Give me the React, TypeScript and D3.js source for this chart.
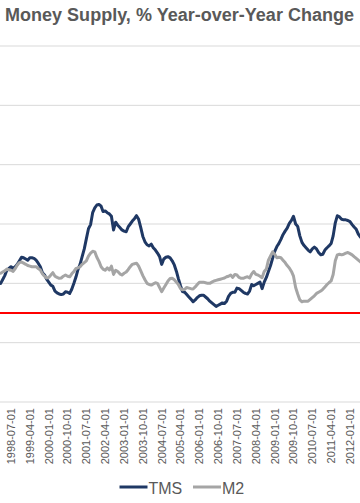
import React from "react";
import * as d3 from "d3";

const title = "Money Supply, % Year-over-Year Change";

const startMonth = "1998-02-01";
const endMonth = "2012-07-01";

const tmsValues = [
  5.0, 5.6, 6.3, 7.2, 7.5, 7.8, 7.5, 7.8, 8.2, 8.8, 9.4, 9.3, 9.1, 8.9, 9.3, 9.3, 9.2, 8.9, 8.4, 7.8,
  6.8, 6.4, 5.7, 5.2, 4.7, 4.5, 3.7, 3.4, 3.2, 3.1, 3.2, 3.6, 3.5, 3.3, 4.0, 5.0, 6.1, 7.3, 8.2, 9.5,
  10.8, 12.5, 14.2, 14.9, 16.9, 17.7, 18.2, 18.3, 18.0, 17.1, 17.2, 16.9, 16.7, 16.3, 14.0, 15.3, 14.8, 14.4, 14.0, 13.8,
  13.7, 14.5, 15.0, 15.5, 15.9, 16.4, 15.8, 14.4, 12.9, 12.0, 11.5, 11.3, 11.6, 11.0, 10.6, 10.1, 9.5, 8.2, 9.1, 9.4,
  9.5, 9.3, 8.8, 8.1, 7.0, 5.8, 4.6, 3.6, 3.5, 3.1, 2.7, 2.3, 1.9, 2.2, 2.6, 2.9, 3.0, 3.0, 2.7, 2.4,
  2.0, 1.7, 1.4, 1.1, 1.3, 1.5, 1.7, 1.6, 2.0, 2.8, 3.3, 3.5, 3.5, 4.2, 4.1, 3.8, 3.5, 3.3, 3.2, 3.7,
  4.8, 4.6, 4.8, 5.0, 5.2, 4.1, 5.2, 6.0, 7.0, 8.0, 9.2, 10.4, 11.2, 11.7, 12.4, 13.2, 13.8, 14.3, 15.1, 15.6,
  16.3, 15.0, 14.6, 13.0, 11.9, 11.4, 11.0, 10.6, 10.3, 10.8, 11.1, 10.8, 10.2, 9.8, 9.9, 10.6, 11.0, 11.3, 11.7, 13.0,
  15.2, 16.4, 16.2, 15.8, 15.7, 15.7, 15.6, 15.4, 14.9, 14.5, 14.1, 13.3, 12.8,
];

const m2Values = [
  6.7, 6.9, 7.1, 7.4, 7.3, 7.2, 7.0, 7.5, 8.1, 8.5, 8.6, 8.4, 8.2, 8.0, 7.9, 7.8, 7.8, 7.8, 7.5, 7.25,
  6.6, 6.2, 5.9, 6.0, 6.4, 6.8, 6.2, 6.0, 5.85, 5.9, 6.2, 6.4, 6.2, 6.1, 6.6, 7.0, 7.5, 7.6, 7.8, 8.2,
  8.5, 8.8, 9.6, 10.1, 10.4, 10.3, 9.4, 8.7, 7.8, 7.4, 7.2, 7.6, 7.25, 7.9, 6.5, 7.2, 7.0, 6.6, 6.4, 6.7,
  6.9, 7.3, 7.8, 8.2, 8.3, 8.4, 7.9, 7.1, 6.3, 5.6, 5.0, 4.8, 4.7, 4.9, 5.1, 5.0, 4.3, 3.6, 4.2, 4.8,
  5.4, 5.8, 5.85, 5.6, 5.2, 4.8, 4.1, 3.9, 4.0, 4.3, 4.2, 4.1, 4.05, 4.4, 4.8, 5.2, 5.2, 5.2, 5.1, 5.0,
  5.0, 5.2, 5.4, 5.5, 5.6, 5.7, 5.8, 5.9, 6.1, 6.2, 6.4, 6.0, 6.5, 6.4, 6.0, 5.85, 5.85, 6.0, 6.1, 5.9,
  6.6, 7.0, 6.5, 6.4, 6.2, 5.95, 7.0, 7.4, 8.9, 9.6, 10.3, 9.9, 9.3, 9.4, 9.3, 8.9, 8.5, 8.0, 7.6, 7.0,
  6.2, 4.3, 3.2, 2.2, 1.9, 2.0, 2.0, 2.0, 2.3, 2.6, 2.9, 3.3, 3.5, 3.7, 4.0, 4.4, 4.8, 5.1, 5.4, 6.5,
  8.8, 9.8, 9.9, 9.8, 9.9, 10.1, 10.2, 10.0, 9.8, 9.5, 9.2, 8.9, 8.6,
];

const tickLabels = [
  "1998-07-01", "1999-04-01", "2000-01-01", "2000-10-01", "2001-07-01", "2002-04-01", "2003-01-01",
  "2003-10-01", "2004-07-01", "2005-04-01", "2006-01-01", "2006-10-01", "2007-07-01", "2008-04-01",
  "2009-01-01", "2009-10-01", "2010-07-01", "2011-04-01", "2012-01-01",
];

const gridValues = [-15, -5, 5, 15, 25, 35, 45];
const zeroValue = 0;

const seriesNames = ["TMS", "M2"];
const seriesColors = ["#1F3864", "#A5A5A5"];

export default function App() {
  const W = 360;
  const H = 503;
  const parse = d3.timeParse("%Y-%m-%d");
  const months = d3.timeMonth.range(parse(startMonth)!, parse(endMonth)!);

  const x = d3
    .scaleTime()
    .domain([parse(tickLabels[0])!, parse(tickLabels[tickLabels.length - 1])!])
    .range([11, 350]);
  const y = d3.scaleLinear().domain([-15, 45]).range([402, 46]);

  const line = d3
    .line<number>()
    .x((_, i) => x(months[i]))
    .y((d) => y(d));

  const series = [tmsValues, m2Values];
  const font = "'Liberation Sans', Arial, sans-serif";

  return (
    <div style={{ position: "fixed", left: 0, top: 0 }}>
      <svg width={W} height={H} style={{ display: "block", background: "#fff" }}>
        <rect x={0} y={0} width={W} height={H} fill="#fff" />
        <text
          x={5}
          y={21}
          fontFamily={font}
          fontWeight="bold"
          fontSize={18}
          fill="#595959"
          textLength={349}
          lengthAdjust="spacing"
        >
          {title}
        </text>
        {gridValues.map((g) => (
          <line key={g} x1={0} x2={W} y1={y(g)} y2={y(g)} stroke="#D9D9D9" strokeWidth={1} />
        ))}
        <line x1={0} x2={W} y1={y(zeroValue)} y2={y(zeroValue)} stroke="#FF0000" strokeWidth={2} />
        {series.map((s, i) => (
          <path
            key={seriesNames[i]}
            d={line(s) || ""}
            fill="none"
            stroke={seriesColors[i]}
            strokeWidth={3}
            strokeLinejoin="round"
            strokeLinecap="round"
          />
        ))}
        {tickLabels.map((t) => {
          const px = x(parse(t)!);
          return (
            <text
              key={t}
              transform={`translate(${px},408) rotate(-90)`}
              textAnchor="end"
              dy="0.35em"
              fontFamily={font}
              fontSize={11}
              fill="#595959"
            >
              {t}
            </text>
          );
        })}
        <g fontFamily={font} fontSize={16} fill="#595959">
          <line x1={119.5} x2={147.5} y1={487} y2={487} stroke={seriesColors[0]} strokeWidth={3} />
          <text x={148.5} y={494}>{seriesNames[0]}</text>
          <line x1={193} x2={221} y1={487} y2={487} stroke={seriesColors[1]} strokeWidth={3} />
          <text x={222} y={494}>{seriesNames[1]}</text>
        </g>
      </svg>
    </div>
  );
}
